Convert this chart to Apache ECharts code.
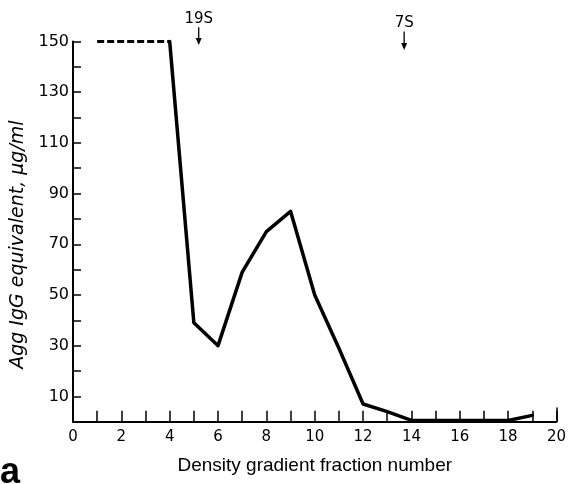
<!DOCTYPE html>
<html>
<head>
<meta charset="utf-8">
<script src="https://cdn.jsdelivr.net/npm/echarts@6/dist/echarts.min.js"></script>
<style>
  html, body { margin: 0; padding: 0; background: #fff; }
  #chart { width: 569px; height: 484px; }
</style>
</head>
<body>
<div id="chart"></div>
<script>
// Fractions 1-4 are off scale (shown dashed at the ceiling of the axis)
const offScaleFractions = [1, 4];
const offScaleValues = [150, 150];

// Measured fractions 4-19 (Agg IgG equivalent, µg/ml)
const fractions = [4, 5, 6, 7, 8, 9, 10, 11, 12, 13, 14, 15, 16, 17, 18, 19];
const aggIgG = [150, 39, 30, 59, 75, 83, 50, 29, 7, 4, 0.5, 0.5, 0.5, 0.5, 0.5, 2.5];

// Sedimentation markers: position on the fraction axis, label, arrow extent (axis units)
const markerFractions = [5.2, 13.7];
const markerLabels = ['19S', '7S'];
const markerTop = [155.6, 153.9];
const markerTip = [148.6, 146.6];

// Axis settings
const xMin = 0, xMax = 20, xStep = 1;
const yMin = 0, yMax = 150, yStep = 10;
const xEndTickHeight = 5.6;

const chart = echarts.init(document.getElementById('chart'), null, { renderer: 'canvas' });

const zip = (xs, ys) => xs.map((x, i) => [x, ys[i]]);

const option = {
  animation: false,
  backgroundColor: '#ffffff',
  grid: { left: 73, right: 11, top: 41.5, bottom: 62.3, containLabel: false },
  xAxis: {
    type: 'value',
    min: xMin, max: xMax, interval: xStep,
    name: 'Density gradient fraction number',
    nameLocation: 'middle',
    nameGap: 35,
    nameTextStyle: { fontFamily: 'Liberation Sans', fontSize: 19, color: '#000' },
    axisLine: { show: true, lineStyle: { color: '#000', width: 2 } },
    axisTick: { show: true, inside: true, length: 11, lineStyle: { color: '#000', width: 1.5 } },
    axisLabel: {
      fontFamily: 'DejaVu Sans', fontSize: 15, color: '#000', margin: 8,
      formatter: v => (v % 2 === 0 ? String(v) : '')
    },
    splitLine: { show: false }
  },
  yAxis: {
    type: 'value',
    min: yMin, max: yMax, interval: yStep,
    name: 'Agg IgG equivalent, μg/ml',
    nameLocation: 'middle',
    nameGap: 44,
    nameTextStyle: {
      fontFamily: 'DejaVu Sans', fontStyle: 'italic', fontSize: 19, color: '#000',
      padding: [0, 26, 0, 0]
    },
    axisLine: { show: true, lineStyle: { color: '#000', width: 2 } },
    axisTick: { show: true, inside: true, length: 8, lineStyle: { color: '#000', width: 1.5 } },
    axisLabel: {
      fontFamily: 'DejaVu Sans', fontSize: 16, color: '#000', margin: 4,
      formatter: v => ((v / 10) % 2 === 1 ? String(v) : '')
    },
    splitLine: { show: false }
  },
  series: [
    {
      name: 'off scale',
      type: 'line',
      data: zip(offScaleFractions, offScaleValues),
      showSymbol: false,
      clip: false,
      lineStyle: { color: '#000', width: 3, type: [7, 3] }
    },
    {
      name: 'Agg IgG',
      type: 'line',
      data: zip(fractions, aggIgG),
      showSymbol: false,
      clip: false,
      lineStyle: { color: '#000', width: 3.5, cap: 'round', join: 'round' }
    },
    {
      // taller closing tick at the end of the fraction axis
      name: 'axis end',
      type: 'line',
      data: [],
      markLine: {
        silent: true,
        symbol: ['none', 'none'],
        lineStyle: { color: '#000', width: 1.5, type: 'solid' },
        label: { show: false },
        data: [[{ coord: [xMax, 0] }, { coord: [xMax, xEndTickHeight] }]]
      }
    }
  ],
  graphic: [
    {
      type: 'text',
      left: 0,
      top: 455,
      style: { text: 'a', fontFamily: 'Liberation Sans', fontWeight: 'bold', fontSize: 36, fill: '#000' }
    }
  ]
};

chart.setOption(option);

// Sedimentation marker arrows sit above the plot area, so place them via the axis scales
const toPx = p => chart.convertToPixel({ xAxisIndex: 0, yAxisIndex: 0 }, p);
const markerGraphics = [];
markerFractions.forEach((f, i) => {
  const top = toPx([f, markerTop[i]]);
  const tip = toPx([f, markerTip[i]]);
  markerGraphics.push({
    type: 'line',
    shape: { x1: top[0], y1: top[1], x2: tip[0], y2: tip[1] - 2 },
    style: { stroke: '#000', lineWidth: 1.3 },
    silent: true
  });
  markerGraphics.push({
    type: 'polygon',
    shape: { points: [[tip[0] - 3, tip[1] - 7], [tip[0] + 3, tip[1] - 7], [tip[0], tip[1]]] },
    style: { fill: '#000' },
    silent: true
  });
  markerGraphics.push({
    type: 'text',
    x: top[0],
    y: top[1] - 1,
    style: {
      text: markerLabels[i], fontFamily: 'DejaVu Sans', fontSize: 15, fill: '#000',
      align: 'center', verticalAlign: 'bottom'
    },
    silent: true
  });
});
chart.setOption({ graphic: option.graphic.concat(markerGraphics) });
</script>
</body>
</html>
